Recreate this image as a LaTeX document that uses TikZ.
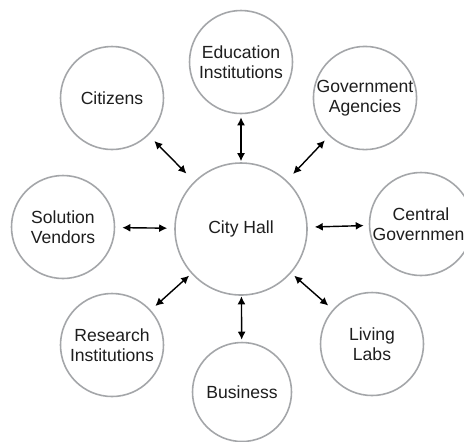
\documentclass[tikz,border=0pt]{standalone}
\usepackage{fontspec}
\setmainfont{Liberation Sans}
\usetikzlibrary{arrows.meta}
\definecolor{hubRing}{HTML}{A4A6A9}
\definecolor{hubText}{HTML}{1E1E1E}

\begin{document}
\begin{tikzpicture}[
  party/.style={circle,draw=hubRing,line width=0.9pt,fill=white,minimum size=2.06cm,inner sep=0pt,align=center,text=hubText,font=\fontsize{10}{11.6}\selectfont},
  link/.style={{Latex[length=1.6mm,width=1.6mm]}-{Latex[length=1.6mm,width=1.6mm]},line width=0.8pt,black}]
  \useasboundingbox (0,0) rectangle (9.28,-8.82);
  \clip (0,0) rectangle (9.28,-8.82);
  % hub and the parties around it
  \node[party,minimum size=2.64cm] (hall) at (4.82,-4.58) {City Hall};
  \node[party] (edu) at (4.82,-1.24) {Education\\Institutions};
  \node[party] (cit) at (2.24,-1.96) {Citizens};
  \node[party] (gov) at (7.30,-1.96) {Government\\Agencies};
  \node[party] (ven) at (1.26,-4.54) {Solution\\Vendors};
  \node[party] (cen) at (8.42,-4.48) {Central\\Government};
  \node[party] (res) at (2.24,-6.90) {Research\\Institutions};
  \node[party] (liv) at (7.44,-6.88) {Living\\Labs};
  \node[party,minimum size=1.98cm] (bus) at (4.84,-7.84) {Business};
  % two-way links
  \draw[link,shorten <=0.02cm,shorten >=0.06cm] (hall) -- (edu);
  \draw[link,shorten <=0.22cm,shorten >=0.16cm] (hall) -- (cit);
  \draw[link,shorten <=0.18cm,shorten >=0.12cm] (hall) -- (gov);
  \draw[link,shorten <=0.14cm,shorten >=0.14cm] (hall) -- (ven);
  \draw[link,shorten <=0.14cm,shorten >=0.10cm] (hall) -- (cen);
  \draw[link,shorten <=0.06cm,shorten >=0.12cm] (hall) -- (res);
  \draw[link,shorten <=0.08cm,shorten >=0.12cm] (hall) -- (liv);
  \draw[link,shorten <=0.01cm,shorten >=0.04cm] (hall) -- (bus);
\end{tikzpicture}
\end{document}
